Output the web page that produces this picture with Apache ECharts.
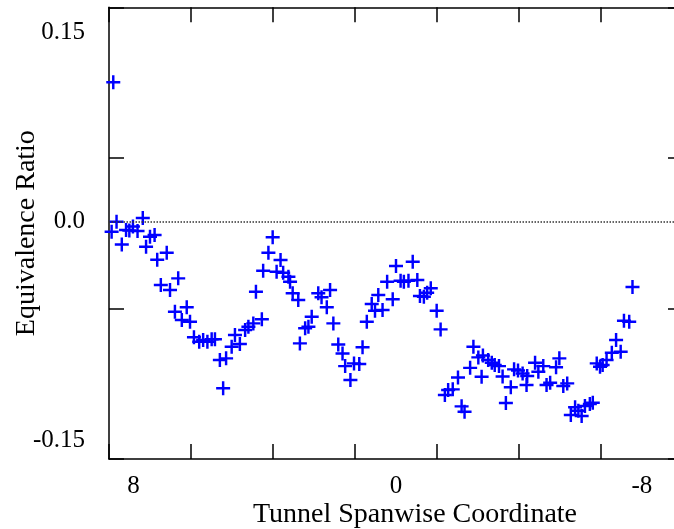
<!DOCTYPE html>
<html>
<head>
<meta charset="utf-8">
<script src="https://cdn.jsdelivr.net/npm/echarts@6/dist/echarts.min.js"></script>
<style>html,body{margin:0;padding:0;background:#fff}#c{width:674px;height:529px}</style>
</head>
<body>
<div id="c"></div>
<script>
// Tunnel spanwise coordinate (x) and equivalence ratio (y)
const spanwise = [8.62,8.67,8.52,8.36,8.23,8.13,8.02,7.88,7.72,7.62,7.50,7.36,7.28,6.99,7.17,6.89,6.64,6.74,6.38,6.53,
6.28,6.16,6.00,5.88,5.75,5.62,5.52,5.37,5.18,5.27,5.01,4.91,4.76,4.60,4.50,4.35,4.09,4.27,4.05,3.89,
3.76,3.64,3.52,3.44,3.28,3.23,3.15,2.98,2.93,2.77,2.67,2.57,2.37,2.27,2.01,2.11,1.91,1.76,1.63,1.55,
1.39,1.28,1.12,1.02,0.89,0.74,0.64,0.54,0.41,0.27,0.10,0.00,-0.14,-0.24,-0.38,-0.51,-0.65,-0.73,-0.85,-0.95,
-1.06,-1.24,-1.36,-1.49,-1.59,-1.73,-1.89,-2.00,-2.09,-2.26,-2.36,-2.51,-2.65,-2.61,-2.81,-2.92,-3.01,-3.14,-3.25,-3.35,
-3.50,-3.60,-3.72,-3.86,-3.98,-4.00,-4.24,-4.34,-4.49,-4.59,-4.70,-4.88,-4.98,-5.10,-5.22,-5.33,-5.46,-5.56,-5.66,-5.76,
-5.91,-6.00,-6.12,-6.22,-6.30,-6.42,-6.58,-6.71,-6.85,-6.95,-7.11,-7.21];
const ratio = [0.1024,-0.0075,-0.0001,-0.0169,-0.0063,-0.0066,-0.0037,-0.0070,0.0026,-0.0185,-0.0112,-0.0099,-0.0281,-0.0229,-0.0467,-0.0504,-0.0418,-0.0663,-0.0631,-0.0724,
-0.0737,-0.0851,-0.0884,-0.0871,-0.0884,-0.0866,-0.0866,-0.1018,-0.1006,-0.1226,-0.0921,-0.0835,-0.0901,-0.0798,-0.0774,-0.0749,-0.0719,-0.0516,-0.0362,-0.0229,
-0.0116,-0.0369,-0.0283,-0.0376,-0.0406,-0.0443,-0.0528,-0.0577,-0.0896,-0.0785,-0.0774,-0.0700,-0.0528,-0.0557,-0.0504,-0.0631,-0.0749,-0.0904,-0.0971,-0.1063,
-0.1165,-0.1043,-0.1048,-0.0925,-0.0737,-0.0607,-0.0656,-0.0540,-0.0651,-0.0443,-0.0572,-0.0327,-0.0435,-0.0443,-0.0435,-0.0296,-0.0430,-0.0548,-0.0553,-0.0524,
-0.0491,-0.0656,-0.0793,-0.1276,-0.1239,-0.1234,-0.1147,-0.1359,-0.1399,-0.1076,-0.0921,-0.0999,-0.0985,-0.1141,-0.1018,-0.1038,-0.1055,-0.1063,-0.1140,-0.1335,
-0.1219,-0.1087,-0.1096,-0.1118,-0.1202,-0.1136,-0.1038,-0.1104,-0.1063,-0.1202,-0.1185,-0.1072,-0.1006,-0.1210,-0.1190,-0.1423,-0.1366,-0.1391,-0.1430,-0.1357,
-0.1342,-0.1332,-0.1043,-0.1068,-0.1055,-0.1018,-0.0965,-0.0871,-0.0957,-0.0729,-0.0737,-0.0482];

const xLabels = [8, 0, -8];
const yLabels = [0.15, 0, -0.15];
const xMin = -8.75, xMax = 8.75, xStep = 2.5;
const yMax = 0.1575, yStep = 0.1107, yMin = -0.1746;

const xTicks = []; for (let v = xMin; v <= xMax + 1e-9; v += xStep) xTicks.push(+v.toFixed(4));
const yTicks = []; for (let i = 0; i <= 3; i++) yTicks.push(+(yMax - i * yStep).toFixed(4));

const FONT = 'Liberation Serif';
const lbl = {fontFamily: FONT, fontSize: 25, color: '#000'};
const axLine = {show: true, onZero: false, lineStyle: {color: '#000', width: 1.5}};
const tick = (vals) => ({show: true, inside: true, length: 15, customValues: vals, lineStyle: {color: '#000', width: 1.5}});

const chart = echarts.init(document.getElementById('c'), null, {renderer: 'canvas'});
chart.setOption({
  animation: false,
  backgroundColor: '#fff',
  grid: {left: 109, right: -9, top: 7.3, bottom: 70, containLabel: false, outerBoundsMode: 'none'},
  xAxis: [{
    type: 'value', min: xMin, max: xMax, inverse: true, position: 'bottom',
    axisLine: axLine, axisTick: tick(xTicks), splitLine: {show: false},
    axisLabel: Object.assign({}, lbl, {customValues: xLabels, margin: 15,
      formatter: v => v === -8 ? '{s|-8}' : String(v),
      rich: {s: {fontFamily: FONT, fontSize: 25, color: '#000', padding: [0, 33, 0, 0]}}}),
    name: 'Tunnel Spanwise Coordinate', nameLocation: 'middle', nameGap: 42, nameMoveOverlap: false,
    nameTextStyle: {fontFamily: FONT, fontSize: 28, color: '#000', padding: [0, 0, 0, 38]}
  }, {
    type: 'value', min: xMin, max: xMax, inverse: true, position: 'top',
    axisLine: axLine, axisTick: tick(xTicks), axisLabel: {show: false}, splitLine: {show: false}
  }],
  yAxis: [{
    type: 'value', min: yMin, max: yMax, position: 'left',
    axisLine: axLine, axisTick: tick(yTicks), splitLine: {show: false},
    axisLabel: Object.assign({}, lbl, {customValues: yLabels, margin: 24,
      formatter: v => v === 0 ? '0.0' : '{d|' + v.toFixed(2) + '}',
      rich: {d: {fontFamily: FONT, fontSize: 25, color: '#000', padding: [29, 0, 0, 0]}}}),
    name: 'Equivalence Ratio', nameLocation: 'middle', nameGap: 68, nameRotate: 90, nameMoveOverlap: false,
    nameTextStyle: {fontFamily: FONT, fontSize: 28, color: '#000'}
  }, {
    type: 'value', min: yMin, max: yMax, position: 'right',
    axisLine: axLine, axisTick: tick(yTicks), axisLabel: {show: false}, splitLine: {show: false}
  }],
  series: [{
    type: 'scatter',
    data: spanwise.map((x, i) => [x, ratio[i]]),
    symbol: 'path://M6.6,0H9.4V6.6H16V9.4H9.4V16H6.6V9.4H0V6.6H6.6Z',
    symbolSize: 14,
    itemStyle: {color: '#0000ff', opacity: 1},
    markLine: {
      silent: true, symbol: 'none', label: {show: false},
      lineStyle: {type: 'dotted', color: '#333', width: 1.5},
      data: [{yAxis: 0}]
    }
  }]
});
</script>
</body>
</html>
